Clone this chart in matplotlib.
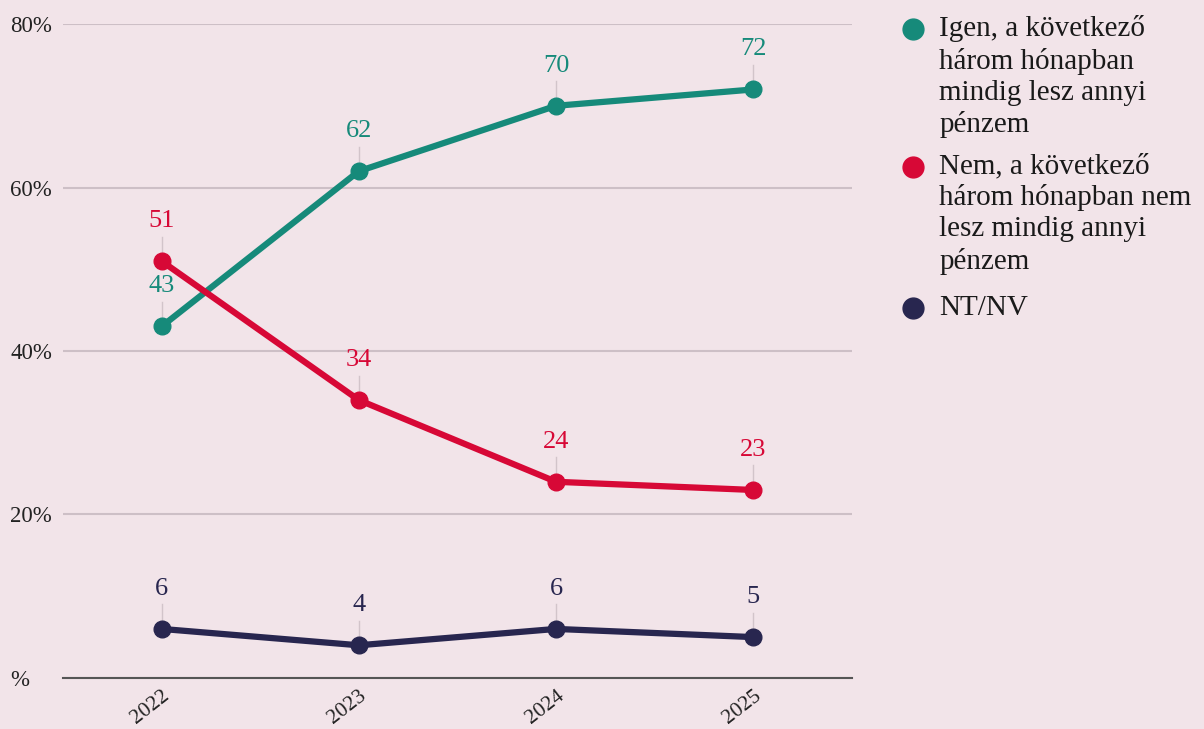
import numpy as np
import matplotlib.pyplot as plt
from matplotlib.lines import Line2D

years = ['2022', '2023', '2024', '2025']
igen = [43, 62, 70, 72]
nem = [51, 34, 24, 23]
ntnv = [6, 4, 6, 5]

labels = ['Igen, a következő\nhárom hónapban\nmindig lesz annyi\npénzem',
          'Nem, a következő\nhárom hónapban nem\nlesz mindig annyi\npénzem',
          'NT/NV']
colors = ['#168A7A', '#D70836', '#28264F']
yticks = [0, 20, 40, 60, 80]
ytick_labels = ['%', '20%', '40%', '60%', '80%']

bg = '#F2E4E9'
serif = 'Liberation Serif'

fig = plt.figure(figsize=(12.04, 7.29), dpi=100, facecolor=bg)
ax = fig.add_axes([0.0523, 0.07, 0.6553, 0.897])
ax.set_facecolor(bg)

x = np.arange(len(years))
for vals, c in zip([igen, nem, ntnv], colors):
    ax.plot(x, vals, color=c, lw=4.5, marker='o', ms=12, zorder=3,
            solid_capstyle='round')
    for xi, v in zip(x, vals):
        # thin leader line from point up to the label
        ax.plot([xi, xi], [v, v + 3.0], color='#D2C4CA', lw=1, zorder=1)
        ax.annotate(str(v), xy=(xi, v), xytext=(0, 29),
                    textcoords='offset points', ha='center', va='center',
                    color=c, fontsize=19, family=serif)

ax.set_xlim(-0.5, 3.5)
ax.set_ylim(0, 80)
ax.set_yticks(yticks)
ax.set_yticklabels(ytick_labels)
for t in ax.get_yticklabels():
    t.set_fontfamily(serif)
    t.set_fontsize(16.5)
    t.set_color('#222222')
    t.set_ha('left')
ax.tick_params(axis='y', length=0, pad=38)
ax.set_xticks(x)
ax.set_xticklabels(years)
for t in ax.get_xticklabels():
    t.set_fontfamily(serif)
    t.set_fontsize(15.5)
    t.set_color('#222222')
    t.set_rotation(38)
    t.set_ha('right')
    t.set_va('top')
    t.set_rotation_mode('anchor')
ax.tick_params(axis='x', length=0, pad=6)
ax.grid(axis='y', color='#CDBFC6', lw=1.5)
ax.set_axisbelow(True)
for s in ['top', 'right', 'left']:
    ax.spines[s].set_visible(False)
ax.spines['bottom'].set_color('#555555')
ax.spines['bottom'].set_linewidth(1.5)

# legend drawn by hand so dots line up with the first line of text
leg_y = [0.960, 0.771, 0.577]
for lab, c, ly in zip(labels, colors, leg_y):
    fig.add_artist(Line2D([0.758], [ly], marker='o', ms=15, color=c,
                          transform=fig.transFigure))
    fig.text(0.780, ly + 0.019, lab, va='top', ha='left', family=serif,
             fontsize=21, color='#1a1a1a', linespacing=1.25)

fig.savefig('out.png', dpi=100, facecolor=bg)
